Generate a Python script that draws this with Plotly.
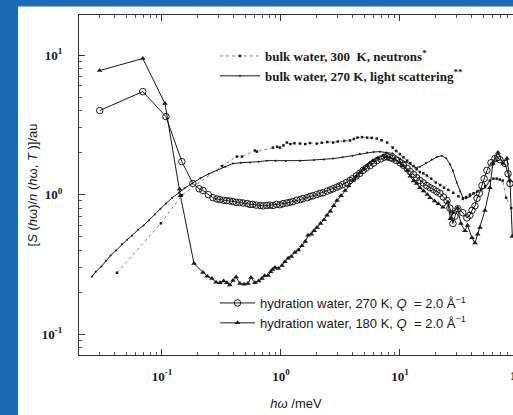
import plotly.graph_objects as go

# ---------------- data ----------------
hyd180_x = [0.030, 0.069, 0.106, 0.141, 0.143, 0.186, 0.221, 0.240, 0.263, 0.285, 0.307, 0.33, 0.351,
            0.372, 0.395, 0.42, 0.452, 0.49, 0.528, 0.56, 0.605, 0.65, 0.692, 0.73, 0.778, 0.82, 0.85,
            0.891, 0.95, 1.02, 1.08, 1.15, 1.22, 1.31, 1.40, 1.50, 1.60, 1.69, 1.80, 1.90, 2.01, 2.15,
            2.3, 2.44, 2.6, 2.78, 2.96, 3.2, 3.45, 3.7, 4.03, 4.3, 4.61, 4.95, 5.28, 5.6, 5.93, 6.5,
            7.19, 7.7, 8.24, 9.0, 10.0, 10.7, 11.5, 12.2, 13.0, 13.8, 14.7, 15.8, 17.0, 17.9, 19.5,
            21.0, 23.0, 25.3, 26.5, 27.9, 30.5, 32.5, 35.2, 37.0, 40.3, 42.7, 45.0, 47.0, 51.8, 57.0,
            60.4, 66.6, 73.4, 79.3, 84.0, 88.0]
hyd180_y = [7.74, 9.44, 4.49, 1.09, 0.98, 0.32, 0.276, 0.26, 0.25, 0.235, 0.233, 0.24, 0.233,
            0.225, 0.242, 0.256, 0.23, 0.228, 0.23, 0.254, 0.233, 0.24, 0.25, 0.262, 0.263, 0.28, 0.29,
            0.30, 0.295, 0.31, 0.33, 0.35, 0.36, 0.385, 0.40, 0.43, 0.46, 0.51, 0.52, 0.55, 0.58, 0.62,
            0.66, 0.71, 0.76, 0.83, 0.905, 0.98, 1.07, 1.15, 1.26, 1.35, 1.44, 1.53, 1.61, 1.68, 1.75, 1.82,
            1.90, 1.87, 1.84, 1.78, 1.69, 1.60, 1.49, 1.35, 1.25, 1.20, 1.12, 1.06, 1.0, 0.95, 0.90,
            0.86, 0.81, 0.88, 0.67, 0.75, 0.80, 0.62, 0.55, 0.60, 0.49, 0.45, 0.52, 0.58, 0.77, 1.12,
            1.67, 2.0, 1.67, 1.81, 1.26, 0.5]

hyd270_x = [0.030, 0.069, 0.108, 0.147, 0.182, 0.205, 0.221, 0.245, 0.268, 0.29, 0.307, 0.33, 0.35,
            0.37, 0.395, 0.42, 0.45, 0.48, 0.52, 0.55, 0.58, 0.62, 0.67, 0.71, 0.76, 0.81, 0.86, 0.92,
            0.98, 1.04, 1.12, 1.19, 1.26, 1.36, 1.45, 1.53, 1.66, 1.76, 1.86, 2.0, 2.13, 2.26, 2.45,
            2.6, 2.74, 2.95, 3.1, 3.3, 3.55, 3.8, 4.0, 4.3, 4.6, 4.9, 5.2, 5.6, 6.0, 6.4, 6.9, 7.4,
            7.8, 8.2, 8.7, 9.3, 10.0, 10.7, 11.5, 12.2, 13.0, 13.8, 14.7, 15.7, 16.8, 17.9, 19.1, 20.4,
            21.7, 23.2, 24.8, 26.3, 27.9, 29.0, 30.7, 33.8, 36.5, 38.7, 40.3, 42.7, 44.4, 46.5, 48.9,
            51.0, 53.8, 58.2, 62.8, 66.0, 69.2, 76.3, 80.9, 84.0]
hyd270_y = [4.0, 5.47, 3.62, 1.72, 1.20, 1.10, 1.07, 1.00, 0.95, 0.93, 0.92, 0.91, 0.905,
            0.90, 0.89, 0.88, 0.876, 0.87, 0.862, 0.85, 0.85, 0.84, 0.835, 0.83, 0.835, 0.84, 0.835, 0.85,
            0.845, 0.86, 0.87, 0.88, 0.89, 0.91, 0.92, 0.935, 0.95, 0.97, 0.98, 1.0, 1.02, 1.03, 1.06,
            1.08, 1.10, 1.13, 1.15, 1.18, 1.22, 1.26, 1.30, 1.36, 1.42, 1.49, 1.55, 1.61, 1.68, 1.75, 1.80, 1.85,
            1.87, 1.84, 1.81, 1.76, 1.69, 1.62, 1.54, 1.46, 1.39, 1.32, 1.26, 1.21, 1.16, 1.12, 1.09, 1.05,
            1.02, 0.96, 0.905, 0.80, 0.62, 0.70, 0.79, 0.74, 0.68, 0.71, 0.77, 0.83, 0.94, 1.02, 1.16,
            1.30, 1.49, 1.69, 1.81, 1.84, 1.78, 1.67, 1.41, 1.2]

light_x = [0.0258, 0.0278, 0.031, 0.0339, 0.037, 0.0411, 0.046, 0.051, 0.056, 0.063, 0.07, 0.0778,
           0.087, 0.097, 0.108, 0.122, 0.139, 0.155, 0.179, 0.21, 0.248, 0.29, 0.34, 0.395, 0.46, 0.55,
           0.65, 0.76, 0.9, 1.1, 1.45, 1.9, 2.3, 2.74, 3.3, 4.0, 4.6, 5.3, 6.0, 6.8, 7.7, 8.7, 10.0,
           11.0, 12.2, 13.4, 14.7, 16.5, 18.5, 20.5, 22.5, 24.5, 26.3, 27.9, 30.0, 32.0, 33.8, 36.0,
           38.7, 42.0, 44.6, 48.0, 52.0, 57.0]
light_y = [0.258, 0.28, 0.305, 0.336, 0.365, 0.397, 0.44, 0.475, 0.508, 0.56, 0.60, 0.652,
           0.72, 0.79, 0.861, 0.95, 1.03, 1.11, 1.20, 1.31, 1.41, 1.49, 1.58, 1.67, 1.69, 1.70,
           1.72, 1.75, 1.75, 1.74, 1.75, 1.77, 1.78, 1.81, 1.85, 1.90, 1.96, 2.0, 2.02, 2.03, 2.0, 1.97, 1.81,
           1.72, 1.66, 1.56, 1.58, 1.68, 1.78, 1.86, 1.90, 1.82, 1.65, 1.48, 1.22, 1.05, 0.95, 0.94,
           0.97, 1.02, 1.05, 1.08, 1.12, 1.26]

neut_x = [0.0419, 0.098, 0.147, 0.32, 0.426, 0.47, 0.605, 0.627, 0.857, 0.93, 0.98, 1.05, 1.12, 1.2,
          1.3, 1.45, 1.6, 1.75, 2.0, 2.2, 2.45, 2.74, 3.0, 3.4, 3.8, 4.1, 4.4, 4.8, 5.3, 5.8, 6.4,
          7.0, 7.8, 8.7, 9.3, 10.0, 10.7, 11.5, 12.2, 13.0, 13.8, 14.7, 15.7, 16.8, 18.3, 20.0,
          21.8, 23.5, 25.5, 28.0, 31.0, 33.8, 36.0, 38.7, 41.5, 44.6, 48.0, 52.0, 57.0, 61.0, 65.0,
          69.0, 73.0, 78.0, 86.0]
neut_y = [0.275, 0.622, 0.99, 1.60, 1.87, 1.87, 2.07, 2.03, 2.17, 2.2, 2.17, 2.25, 2.36, 2.3,
          2.33, 2.32, 2.3, 2.34, 2.32, 2.35, 2.38, 2.36, 2.40, 2.42, 2.44, 2.5, 2.56, 2.58, 2.56, 2.55, 2.52,
          2.45, 2.36, 2.17, 2.05, 1.95, 1.85, 1.75, 1.68, 1.60, 1.52, 1.45, 1.42, 1.37, 1.30, 1.22,
          1.17, 1.12, 1.08, 1.03, 0.97, 0.93, 0.96, 1.0, 1.02, 1.05, 1.08, 1.15, 1.26, 1.30, 1.30,
          1.28, 1.26, 0.95, 0.80]

x_tickvals = [0.1, 1, 10]
x_ticktext = ["<b>10<sup>-1</sup></b>", "<b>10<sup>0</sup></b>", "<b>10<sup>1</sup></b>"]
y_tickvals = [0.1, 1, 10]
y_ticktext = ["<b>10<sup>-1</sup></b>", "<b>10<sup>0</sup></b>", "<b>10<sup>1</sup></b>"]
cut_label = "<b>10<sup>2</sup></b>"

# ---------------- layout geometry ----------------
W, H = 513, 415
L, R, T, B = 79, 0, 15, 60
PW, PH = W - L - R, H - T - B


def pxx(px):
    return (px - L) / PW


def pxy(py):
    return (H - B - py) / PH


BLUE = "#1a6bb3"
INK = "#1a1a1a"
SERIF = "Liberation Serif"
SANS = "Liberation Sans"

fig = go.Figure()

fig.add_trace(go.Scatter(
    x=hyd180_x, y=hyd180_y, mode="lines+markers",
    name="hydration water, 180 K, <i>Q</i>  = 2.0 Å<sup>−1</sup>",
    line=dict(color=INK, width=1),
    marker=dict(symbol="triangle-up", size=5, color=INK),
    legend="legend2", legendrank=2))

fig.add_trace(go.Scatter(
    x=hyd270_x, y=hyd270_y, mode="lines+markers",
    name="hydration water, 270 K, <i>Q</i>  = 2.0 Å<sup>−1</sup>",
    line=dict(color=INK, width=1),
    marker=dict(symbol="circle-open", size=6.5, color=INK, line=dict(width=1)),
    legend="legend2", legendrank=1))

fig.add_trace(go.Scatter(
    x=light_x, y=light_y, mode="lines+markers",
    name="<b>bulk water, 270 K, light scattering<sup>**</sup></b>",
    line=dict(color=INK, width=1),
    marker=dict(symbol="circle", size=2, color=INK),
    legend="legend", legendrank=2))

fig.add_trace(go.Scatter(
    x=neut_x, y=neut_y, mode="lines+markers",
    name="<b>bulk water, 300  K, neutrons<sup>*</sup></b>",
    line=dict(color="#888888", width=1, dash="dot"),
    marker=dict(symbol="square", size=2.5, color=INK),
    legend="legend", legendrank=1))

axis_common = dict(
    type="log", showgrid=False, zeroline=False,
    showline=True, linecolor="#333333", linewidth=1,
    ticks="inside", ticklen=6, tickcolor="#333333", tickwidth=1,
    minor=dict(ticks="inside", ticklen=3, tickcolor="#555555", dtick="D1", showgrid=False),
    tickfont=dict(family=SERIF, size=13, color=INK),
)

fig.update_xaxes(
    **axis_common,
    range=[-1.697, 1.950],
    mirror="ticks",
    tickvals=x_tickvals, ticktext=x_ticktext,
    ticklabelstandoff=9,
    title=dict(text="<i>hω</i> /meV", font=dict(family=SANS, size=13, color=INK), standoff=16),
)
fig.update_yaxes(
    **axis_common,
    range=[-1.15, 1.287],
    mirror=False,
    tickvals=y_tickvals, ticktext=y_ticktext,
    ticklabelstandoff=13,
    title=dict(text="[<i>S</i> (<i>h</i>ω)/<i>n</i> (<i>h</i>ω, <i>T</i> )]/au",
               font=dict(family=SANS, size=13, color=INK), standoff=1),
)

shapes = [
    dict(type="rect", xref="paper", yref="paper", layer="above",
         x0=pxx(0), x1=pxx(18), y0=pxy(H), y1=pxy(0), line=dict(width=0), fillcolor=BLUE),
    dict(type="rect", xref="paper", yref="paper", layer="above",
         x0=pxx(0), x1=pxx(W), y0=pxy(6.5), y1=pxy(0), line=dict(width=0), fillcolor=BLUE),
]

fig.update_layout(
    width=W, height=H,
    margin=dict(l=L, r=R, t=T, b=B, pad=0),
    paper_bgcolor="white", plot_bgcolor="white",
    showlegend=True,
    shapes=shapes,
    legend=dict(x=pxx(215), y=pxy(41), xanchor="left", yanchor="top",
                bgcolor="rgba(0,0,0,0)", borderwidth=0, itemwidth=40,
                font=dict(family=SERIF, size=13, color=INK), tracegroupgap=0),
    legend2=dict(x=pxx(215), y=pxy(288), xanchor="left", yanchor="top",
                 bgcolor="rgba(0,0,0,0)", borderwidth=0, itemwidth=35,
                 font=dict(family=SANS, size=13, color=INK), tracegroupgap=0),
    annotations=[dict(text=cut_label, xref="paper", yref="paper", x=pxx(519), y=pxy(375),
                      showarrow=False, font=dict(family=SERIF, size=13, color=INK),
                      xanchor="center", yanchor="middle")],
)

fig.write_html("out.html", config={"displayModeBar": False},
               post_script="document.body.style.margin='0px';")
